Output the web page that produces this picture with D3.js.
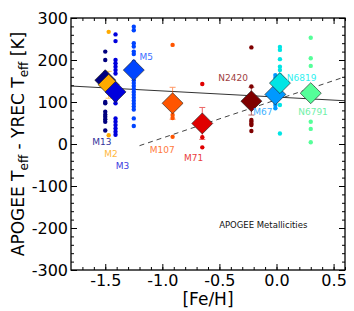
<!DOCTYPE html>
<html>
<head>
<meta charset="utf-8">
<script src="https://cdn.jsdelivr.net/npm/d3@7"></script>
<style>
  body { margin: 0; background: #fff; }
  text { font-family: "DejaVu Sans", sans-serif; }
</style>
</head>
<body>
<div id="chart"></div>
<script>
// cluster names, in drawing order
var clusters = ["M13", "M2", "M3", "M5", "M107", "M71", "N2420", "M67", "N6819", "N6791"];
// mean [Fe/H] and mean Teff offset of each cluster
var clusterFeH = [-1.50, -1.47, -1.41, -1.25, -0.91, -0.65, -0.22, -0.01, 0.03, 0.30];
var clusterDiff = [152, 141, 124, 176, 97, 49, 102, 118, 145, 121];
var clusterErr = [0, 32, 0, 0, 38, 38, 33, 0, 0, 0];
var colors = ["#00007f", "#ffaa00", "#0000dd", "#0044ff", "#ff5500", "#e00000", "#7f0000", "#0099ff", "#00e5e5", "#55ff99"];
var labelColors = ["#33339c", "#ffb840", "#3b3be0", "#3b6eff", "#ff7a40", "#ea4040", "#a04040", "#40b0ff", "#30f0f0", "#70f0a8"];

// individual star offsets per cluster
var starDiff = [
  [220, 200, 170, 163, 100, 97, 77, 70, 65, 59, 53, 32],
  [267, 21],
  [261, 245, 200, 192, 184, 176, 168, 113, 105, 97, 61, 53, 45, 37, 29, 22],
  [279, 271, 240, 232, 220, 214, 196, 188, 152, 145, 138, 131, 124, 117, 110, 103, 96, 89, 82, 61, 43],
  [236, 69, 62, 17],
  [143, 16, -8],
  [230, 137, 57, 53, 48, 45, 31],
  [164, 157, 140, 100, 93, 85],
  [231, 224, 202, 184, 176, 164, 93, 25],
  [253, 204, 186, 53, 36, 4]
];

// label anchor points (data units)
var labelFeH = [-1.53, -1.45, -1.35, -1.14, -1.00, -0.725, -0.38, -0.12, 0.22, 0.32];
var labelDiff = [-2, -30, -60, 200, -21, -40, 151, 69, 150, 69];

// fit lines
var fitAllX = [-1.8, 0.6], fitAllY = [138, 103];
var fitRichX = [-1.2, 0.6], fitRichY = [-4, 160];

var xTicks = [-1.5, -1.0, -0.5, 0.0, 0.5];
var yTicks = [-300, -200, -100, 0, 100, 200, 300];

var margin = { top: 18, right: 9, bottom: 41, left: 71 },
  width = 354 - margin.left - margin.right,
  height = 311 - margin.top - margin.bottom;

var svg = d3.select("#chart")
  .append("svg")
  .attr("width", 354)
  .attr("height", 311)
  .append("g")
  .attr("transform", "translate(" + margin.left + "," + margin.top + ")");

var x = d3.scaleLinear().domain([-1.8, 0.6]).range([0, width]);
var y = d3.scaleLinear().domain([-300, 300]).range([height, 0]);

var fmtX = function (d) { return d3.format(".1f")(d).replace("−", "-"); };
var fmtY = function (d) { return String(d); };

var xMinor = d3.range(-17, 7).map(function (i) { return i / 10; });
var yMinor = d3.range(-15, 16).map(function (i) { return i * 20; });

// minor ticks on all sides
svg.append("g").attr("class", "minor")
  .attr("transform", "translate(0," + height + ")")
  .call(d3.axisBottom(x).tickValues(xMinor).tickSize(-3).tickFormat(""));
svg.append("g").attr("class", "minor")
  .call(d3.axisTop(x).tickValues(xMinor).tickSize(-3).tickFormat(""));
svg.append("g").attr("class", "minor")
  .call(d3.axisLeft(y).tickValues(yMinor).tickSize(-3).tickFormat(""));
svg.append("g").attr("class", "minor")
  .attr("transform", "translate(" + width + ",0)")
  .call(d3.axisRight(y).tickValues(yMinor).tickSize(-3).tickFormat(""));

// major ticks
var xAxis = svg.append("g")
  .attr("transform", "translate(0," + height + ")")
  .call(d3.axisBottom(x).tickValues(xTicks).tickSize(-6).tickPadding(5).tickFormat(fmtX));
var yAxis = svg.append("g")
  .call(d3.axisLeft(y).tickValues(yTicks).tickSize(-6).tickPadding(3).tickFormat(fmtY));
svg.append("g")
  .call(d3.axisTop(x).tickValues(xTicks).tickSize(-6).tickFormat(""));
svg.append("g")
  .attr("transform", "translate(" + width + ",0)")
  .call(d3.axisRight(y).tickValues(yTicks).tickSize(-6).tickFormat(""));

svg.selectAll(".domain").remove();
svg.selectAll(".tick line").attr("stroke", "#000").attr("stroke-width", 1);
xAxis.selectAll("text").style("font-size", "16px").attr("fill", "#000");
yAxis.selectAll("text").style("font-size", "16px").attr("fill", "#000");

// fit lines
var line = d3.line()
  .x(function (d) { return x(d[0]); })
  .y(function (d) { return y(d[1]); });

svg.append("path")
  .datum(fitAllX.map(function (v, i) { return [v, fitAllY[i]]; }))
  .attr("fill", "none")
  .attr("stroke", "#333")
  .attr("stroke-width", 1)
  .attr("d", line);

svg.append("path")
  .datum(fitRichX.map(function (v, i) { return [v, fitRichY[i]]; }))
  .attr("fill", "none")
  .attr("stroke", "#444")
  .attr("stroke-width", 1)
  .attr("stroke-dasharray", "5,4")
  .attr("d", line);

// star points
clusters.forEach(function (c, i) {
  svg.append("g")
    .selectAll("circle")
    .data(starDiff[i])
    .enter()
    .append("circle")
    .attr("cx", x(clusterFeH[i]))
    .attr("cy", function (d) { return y(d); })
    .attr("r", 2.2)
    .attr("fill", colors[i]);
});

// error bars
clusters.forEach(function (c, i) {
  if (!clusterErr[i]) return;
  var cx = x(clusterFeH[i]),
    top = y(clusterDiff[i] + clusterErr[i]),
    bot = y(clusterDiff[i] - clusterErr[i]);
  var g = svg.append("g").attr("stroke", colors[i]).attr("stroke-width", 1).attr("opacity", 0.6);
  g.append("line").attr("x1", cx).attr("x2", cx).attr("y1", top).attr("y2", bot);
  g.append("line").attr("x1", cx - 3).attr("x2", cx + 3).attr("y1", top).attr("y2", top);
  g.append("line").attr("x1", cx - 3).attr("x2", cx + 3).attr("y1", bot).attr("y2", bot);
});

// cluster mean diamonds
var diamond = d3.symbol().type(d3.symbolSquare).size(220);
clusters.forEach(function (c, i) {
  svg.append("path")
    .attr("d", diamond())
    .attr("transform", "translate(" + x(clusterFeH[i]) + "," + y(clusterDiff[i]) + ") rotate(45)")
    .attr("fill", colors[i])
    .attr("stroke", "#222")
    .attr("stroke-width", 0.6);
});

// cluster labels
svg.append("g")
  .selectAll("text")
  .data(clusters)
  .enter()
  .append("text")
  .attr("x", function (d, i) { return x(labelFeH[i]); })
  .attr("y", function (d, i) { return y(labelDiff[i]); })
  .attr("text-anchor", "middle")
  .style("font-size", "9px")
  .attr("fill", function (d, i) { return labelColors[i]; })
  .text(function (d) { return d; });

svg.append("text")
  .attr("x", x(-0.116))
  .attr("y", y(-199))
  .attr("text-anchor", "middle")
  .style("font-size", "8.5px")
  .attr("fill", "#111")
  .text("APOGEE Metallicities");

// frame
svg.append("rect")
  .attr("width", width)
  .attr("height", height)
  .attr("fill", "none")
  .attr("stroke", "#000")
  .attr("stroke-width", 1.3);

// axis labels
svg.append("text")
  .attr("x", width / 2)
  .attr("y", height + 35)
  .attr("text-anchor", "middle")
  .style("font-size", "17px")
  .text("[Fe/H]");

var yl = svg.append("text")
  .attr("transform", "translate(" + (18 - margin.left) + "," + (height / 2) + ") rotate(-90)")
  .attr("text-anchor", "middle")
  .attr("dy", "0.35em")
  .style("font-size", "17px");
yl.append("tspan").text("APOGEE T");
yl.append("tspan").attr("dy", 4).style("font-size", "12px").text("eff");
yl.append("tspan").attr("dy", -4).text(" - YREC T");
yl.append("tspan").attr("dy", 4).style("font-size", "12px").text("eff");
yl.append("tspan").attr("dy", -4).text(" [K]");
</script>
</body>
</html>
